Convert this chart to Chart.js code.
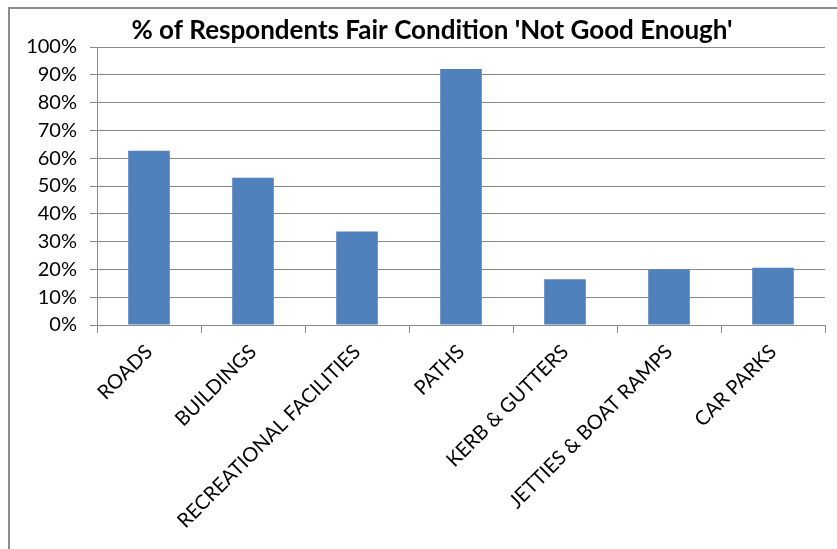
<!DOCTYPE html>
<html>
<head>
<meta charset="utf-8">
<script src="https://cdn.jsdelivr.net/npm/chart.js@4"></script>
<style>
  html, body { margin: 0; padding: 0; background: #fff; overflow: hidden; width: 837px; height: 549px; }
  #frame { position: absolute; left: 8px; top: 7px; width: 844px; height: 560px; border: 2px solid #8c8c8c; background: #fff; }
  canvas { display: block; }
</style>
</head>
<body>
<div id="frame"><canvas id="c" width="844" height="560"></canvas></div>
<script>
// Share of respondents rating each asset's fair condition as "not good enough"
const categories = ['ROADS', 'BUILDINGS', 'RECREATIONAL FACILITIES', 'PATHS', 'KERB & GUTTERS', 'JETTIES & BOAT RAMPS', 'CAR PARKS'];
const notGoodEnough = [62.7, 53.0, 33.6, 92.1, 16.5, 20.0, 20.6];
const titleText = "% of Respondents Fair Condition 'Not Good Enough'";
const yMin = 0, yMax = 100, yStep = 10;

const FONT = 'Lato, "Open Sans", sans-serif';
const AXIS_GREY = '#8a8a8a';

// Title is centred on the whole chart frame (which runs past the plot's right edge)
const frameTitle = {
  id: 'frameTitle',
  afterDraw(chart, args, opts) {
    const ctx = chart.ctx;
    ctx.save();
    ctx.font = 'bold 26px ' + FONT;
    ctx.fillStyle = '#000';
    ctx.textAlign = 'center';
    ctx.textBaseline = 'middle';
    ctx.fillText(opts.text, chart.width / 2, opts.y);
    ctx.restore();
  }
};

new Chart(document.getElementById('c'), {
  type: 'bar',
  data: {
    labels: categories,
    datasets: [{
      data: notGoodEnough,
      backgroundColor: '#4f81bd',
      borderWidth: 0,
      categoryPercentage: 1.0,
      barPercentage: 0.4
    }]
  },
  plugins: [frameTitle],
  options: {
    responsive: false,
    animation: false,
    layout: { padding: { left: 0, right: 29, top: 38, bottom: 0 } },
    plugins: {
      legend: { display: false },
      tooltip: { enabled: false },
      title: { display: false },
      frameTitle: { text: titleText, y: 22 }
    },
    scales: {
      x: {
        offset: true,
        afterFit(scale) { scale.height = 244; },
        grid: {
          display: true,
          offset: true,
          drawOnChartArea: false,
          drawTicks: true,
          tickLength: 8,
          color: AXIS_GREY,
          lineWidth: 1
        },
        border: { display: true, color: AXIS_GREY, width: 1 },
        ticks: {
          autoSkip: false,
          maxRotation: 45,
          minRotation: 45,
          padding: 7,
          color: '#000',
          font: { family: FONT, size: 20 }
        }
      },
      y: {
        min: yMin,
        max: yMax,
        afterFit(scale) { scale.width = 87; },
        grid: {
          color: AXIS_GREY,
          lineWidth: 1,
          drawTicks: true,
          tickLength: 7
        },
        border: { display: true, color: AXIS_GREY, width: 1 },
        ticks: {
          stepSize: yStep,
          padding: 13,
          color: '#000',
          font: { family: FONT, size: 20 },
          callback: v => v + '%'
        }
      }
    }
  }
});
</script>
</body>
</html>
